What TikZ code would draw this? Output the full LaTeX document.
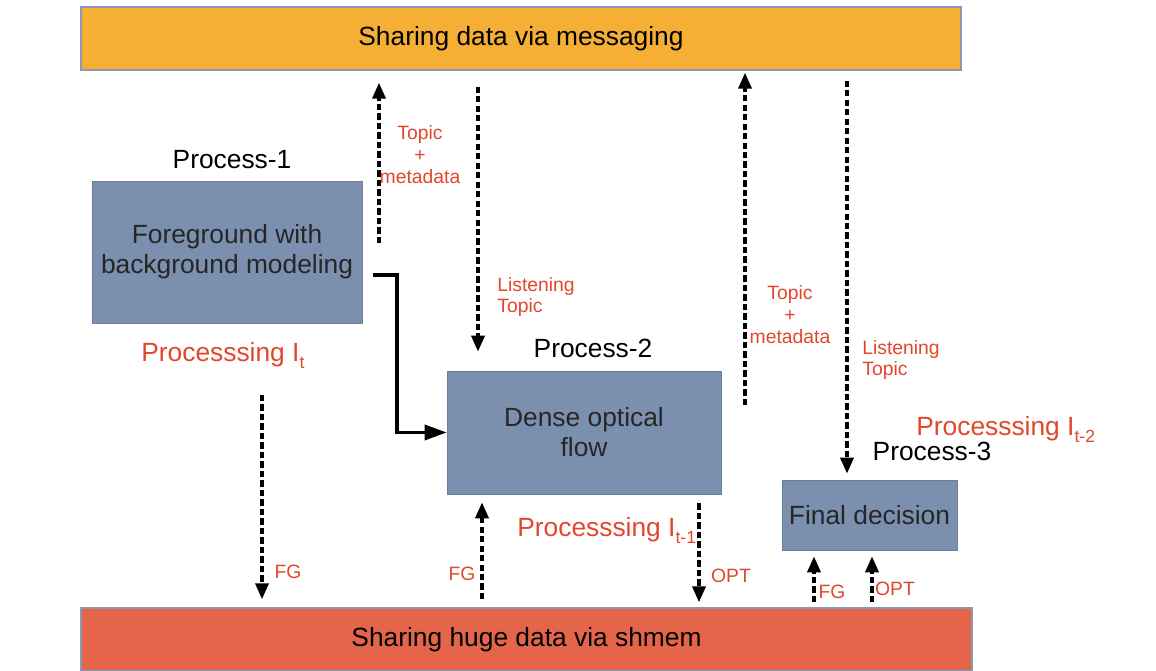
\documentclass[tikz,border=0pt]{standalone}
\usepackage{fontspec}
\setmainfont{Liberation Sans}
\usetikzlibrary{arrows.meta, positioning, calc}
\definecolor{barMsg}{HTML}{F5AF35}
\definecolor{barShm}{HTML}{E4654A}
\definecolor{procFill}{HTML}{7B8FAE}
\definecolor{procBorder}{HTML}{6A7FA0}
\definecolor{barBorder}{HTML}{8A9AB5}
\definecolor{labelRed}{HTML}{E2462B}
\newcommand{\lowsub}[1]{\raisebox{-0.45ex}{\fontsize{10}{10}\selectfont #1}}

\begin{document}
\begin{tikzpicture}[x=0.02cm, y=-0.02cm, font=\fontsize{15}{17}\selectfont, >=Latex,
        bar/.style={draw=barBorder, line width=0.8pt, minimum height=1.26cm},
        proc/.style={draw=procBorder, fill=procFill, align=center, text=black!85},
        lbl/.style={text=labelRed, font=\fontsize{11}{12.5}\selectfont, inner sep=0pt},
        plbl/.style={text=labelRed, inner sep=0pt, anchor=base west},
        flow/.style={-{Triangle[length=3.2mm, width=2.6mm]}, line width=2pt,
            dash pattern=on 3.6pt off 1.8pt},
        feed/.style={-{Triangle[length=4.4mm, width=3mm]}, line width=2pt}]
        \useasboundingbox (0,0) rectangle (1156,671);
        % bars
        \node[bar, fill=barMsg, minimum width=17.6cm]  (msg) at (521,38.5)  {Sharing data via messaging};
        \node[bar, fill=barShm, minimum width=17.82cm] (shm) at (526.5,639.5) {Sharing huge data via shmem};
        % processes
        \node[proc, minimum width=5.4cm,  minimum height=2.84cm] (p1) at (227,252)   {Foreground with\\background modeling};
        \node[proc, minimum width=5.48cm, minimum height=2.46cm] (p2) at (584,432.5) {Dense optical\\flow};
        \node[proc, minimum width=3.5cm,  minimum height=1.4cm]  (p3) at (869.5,515) {Final decision};
        \node (n1) at (232,160) {Process-1};
        \node (n2) at (593,348) {Process-2};
        \node (n3) at (932,451) {Process-3};
        \node[plbl] (i1) at (141,362) {Processsing I\lowsub{t}};
        \node[plbl] (i2) at (517,537) {Processsing I\lowsub{t-1}};
        \node[plbl] (i3) at (916,436) {Processsing I\lowsub{t-2}};
        % messaging
        \coordinate (a1) at (379,243);
        \coordinate (a2) at (478,0);
        \coordinate (a3) at (745,405);
        \coordinate (a4) at (847,0);
        \draw[flow, shorten >=0.24cm] (a1) -- (a1 |- msg.south);
        \draw[flow, shorten <=0.32cm, shorten >=0.38cm] (a2 |- msg.south) -- (a2 |- p2.north);
        \draw[flow, shorten >=0.04cm] (a3) -- (a3 |- msg.south);
        \draw[flow, shorten <=0.2cm, shorten >=0.12cm] (a4 |- msg.south) -- (a4 |- p3.north);
        \node[lbl, align=center] (t1) at (420,155) {Topic\\+\\metadata};
        \node[lbl, align=left, anchor=west] (l1) at (497,297) {Listening\\Topic};
        \node[lbl, align=center] (t2) at (790,315) {Topic\\+\\metadata};
        \node[lbl, align=left, anchor=west] (l2) at (862,360) {Listening\\Topic};
        % p1 -> p2
        \coordinate (b1) at (373,275);
        \draw[feed] (b1) -- ++(24,0) |- (p2.west);
        % shmem
        \coordinate (c1) at (262,395);
        \coordinate (c2) at (482,0);
        \coordinate (c3) at (699,0);
        \coordinate (c4) at (814,0);
        \coordinate (c5) at (872,0);
        \draw[flow, shorten >=0.16cm] (c1) -- (c1 |- shm.north);
        \draw[flow, shorten <=0.16cm, shorten >=0.16cm] (c2 |- shm.north) -- (c2 |- p2.south);
        \draw[flow, shorten <=0.18cm, shorten >=0.1cm] (c3 |- p2.south) -- (c3 |- shm.north);
        \foreach \c in {c4,c5}
            \draw[flow, shorten <=0.1cm, shorten >=0.12cm] (\c |- shm.north) -- (\c |- p3.south);
        \node[lbl] (f1) at (288,572) {FG};
        \node[lbl] (f2) at (462,574) {FG};
        \node[lbl] (o1) at (731,576) {OPT};
        \node[lbl] (f3) at (832,592) {FG};
        \node[lbl] (o2) at (895,589) {OPT};
    \end{tikzpicture}
\end{document}
